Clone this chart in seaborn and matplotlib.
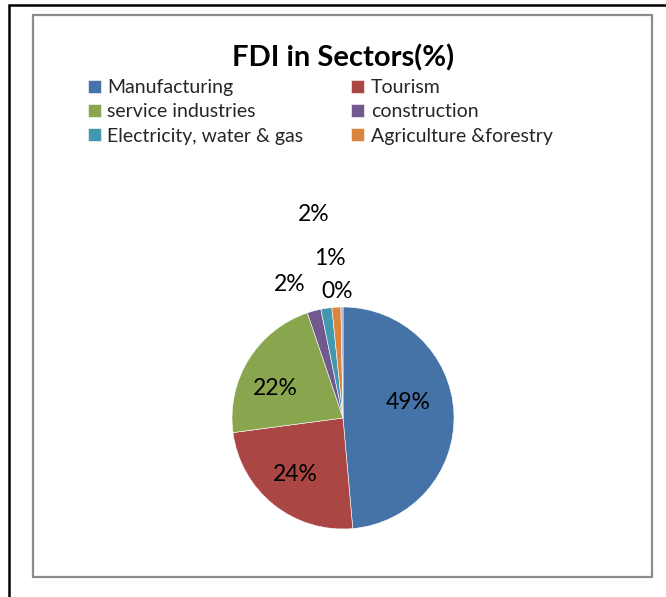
import matplotlib
matplotlib.use("Agg")
import matplotlib.pyplot as plt
import seaborn as sns
from matplotlib.patches import Rectangle

# Datos
sectores = ["Manufacturing", "Tourism", "service industries", "construction",
            "Electricity, water & gas", "Agriculture &forestry", ""]
porcentajes = [48.6, 24.3, 21.9, 2.0, 1.6, 1.3, 0.3]
etiquetas = ["49%", "24%", "22%", "2%", "2%", "1%", "0%"]
colores = ["#4572A7", "#AA4643", "#89A54E", "#71588F", "#4198AF", "#DB843D", "#93A9CF"]

# posiciones de etiquetas (en radios del pie), colocadas como en Excel
pos_etiquetas = [(0.59, 0.14), (-0.43, -0.51), (-0.61, 0.27), (-0.48, 1.20),
                 (-0.26, 1.83), (-0.12, 1.44), (-0.05, 1.14)]

sns.set_theme(style="white")
plt.rcParams['font.family'] = ['Lato', 'DejaVu Sans']

W, H = 666, 597
fig = plt.figure(figsize=(W / 100, H / 100), dpi=100)

# marcos
fig.patches.append(Rectangle((9 / W, -0.1), 1.2, (H - 5) / H + 0.1, transform=fig.transFigure,
                             fill=False, edgecolor="black", linewidth=1.8))
fig.patches.append(Rectangle((33 / W, 1 - 577 / H), (652 - 33) / W, (577 - 15) / H,
                             transform=fig.transFigure, fill=False, edgecolor="#8c8c8c", linewidth=1.6))

# pie
cx, cy, R = 343, 418, 111
ax = fig.add_axes([(cx - R) / W, (H - cy - R) / H, 2 * R / W, 2 * R / H])
wedges, _ = ax.pie(porcentajes, colors=colores, startangle=90, counterclock=False,
                   radius=1, wedgeprops=dict(edgecolor="white", linewidth=0.4))
ax.set_xlim(-1, 1)
ax.set_ylim(-1, 1)
ax.set_aspect("equal")
ax.axis("off")

for txt, (x, y) in zip(etiquetas, pos_etiquetas):
    ax.text(x, y, txt, ha="center", va="center", fontsize=16.5, color="black")

fig.text(343 / W, 1 - 58 / H, "FDI in Sectors(%)", ha="center", va="center",
         fontsize=21, fontweight="bold", color="black")

# leyenda por filas (2 columnas)
orden = [0, 2, 4, 1, 3, 5]
fig.legend([wedges[i] for i in orden], [sectores[i] for i in orden], ncol=2, loc="upper left",
           bbox_to_anchor=(88 / W, 1 - 79 / H), frameon=False, fontsize=14,
           handlelength=0.65, handleheight=0.65, handletextpad=0.35,
           columnspacing=2.45, labelspacing=0.38, borderpad=0, borderaxespad=0)

fig.savefig("out.png", dpi=100)
